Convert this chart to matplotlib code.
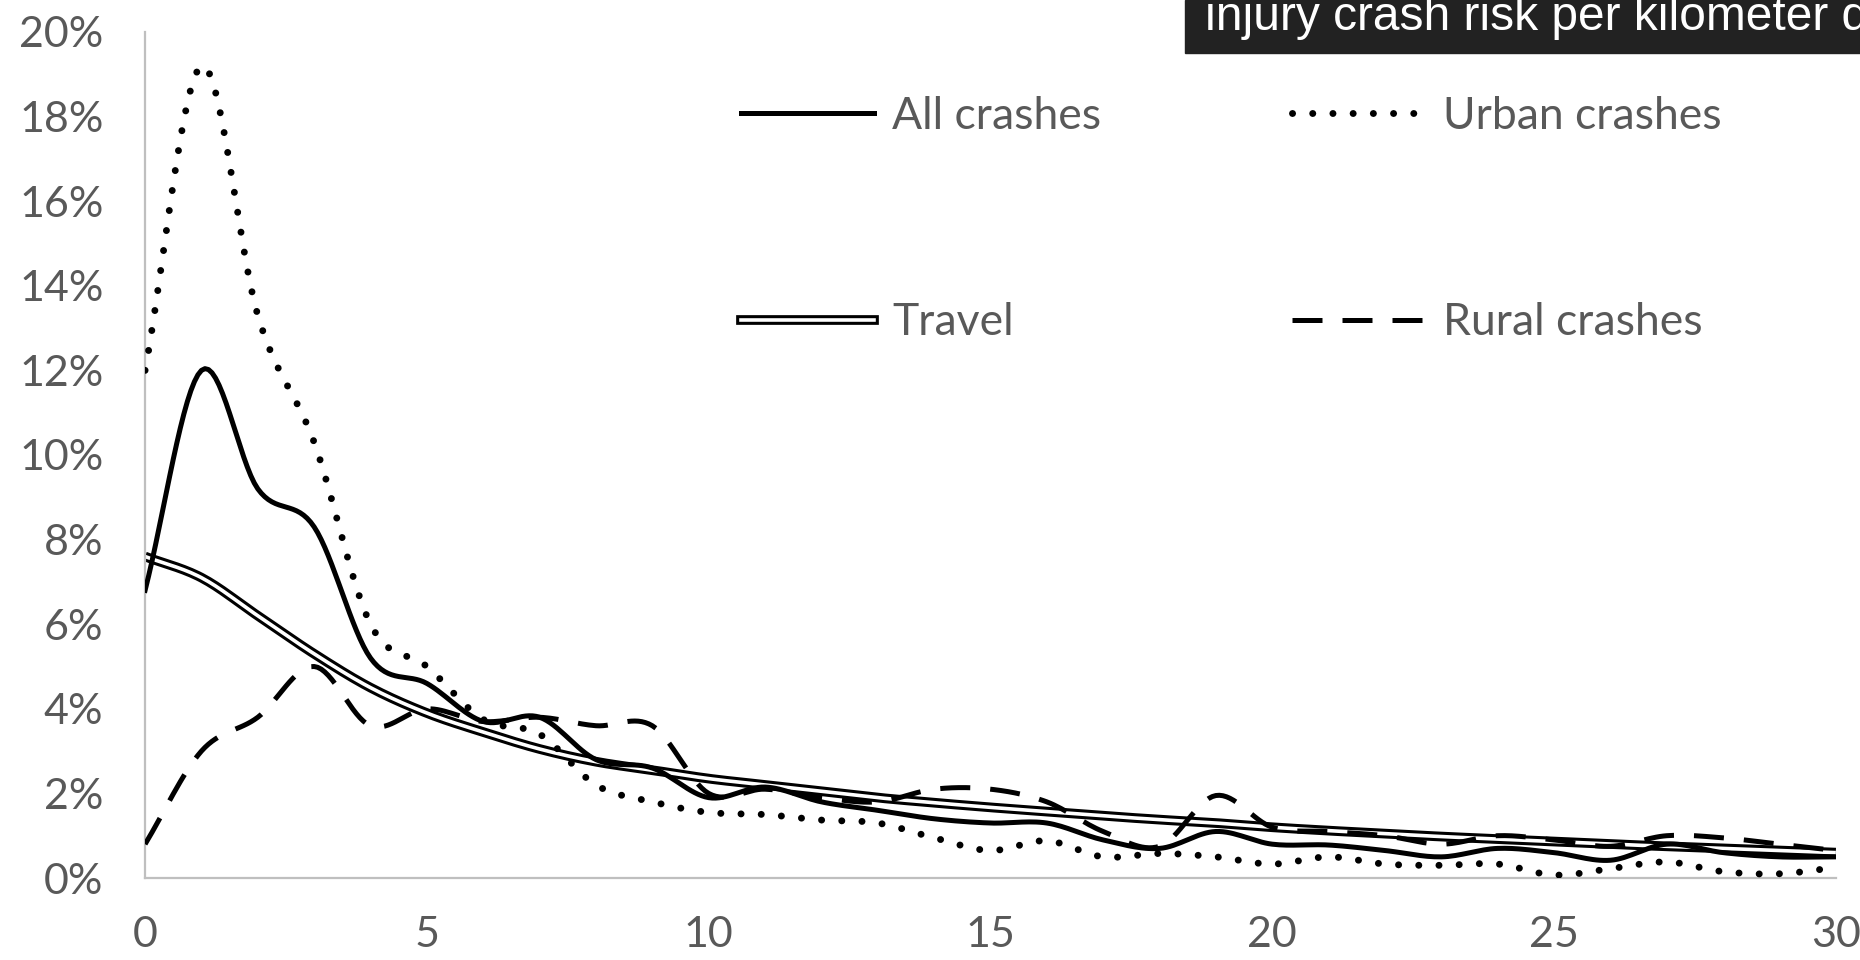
import numpy as np
import matplotlib
matplotlib.use('Agg')
import matplotlib.pyplot as plt
import matplotlib.patheffects as pe
from matplotlib.lines import Line2D
from matplotlib.ticker import FuncFormatter

# Values (percent), distance 0..30
distance = list(range(31))
all_crashes = [6.8, 12.0, 9.2, 8.3, 5.2, 4.6, 3.7, 3.8, 2.8, 2.6, 1.9,
               2.15, 1.8, 1.6, 1.4, 1.3, 1.3, 0.9, 0.7, 1.1, 0.8,
               0.78, 0.65, 0.5, 0.7, 0.6, 0.42, 0.8, 0.6, 0.5, 0.5]
urban_crashes = [12.0, 19.2, 13.3, 10.3, 6.0, 5.0, 3.75, 3.4, 2.2, 1.8, 1.55,
                 1.5, 1.37, 1.3, 0.95, 0.65, 0.88, 0.5, 0.58, 0.5, 0.33,
                 0.5, 0.33, 0.3, 0.33, 0.07, 0.22, 0.38, 0.15, 0.1, 0.25]
rural_crashes = [0.8, 3.0, 3.8, 5.0, 3.6, 4.0, 3.7, 3.8, 3.6, 3.6, 2.0,
                 2.1, 1.9, 1.8, 2.1, 2.1, 1.8, 1.1, 0.75, 1.95, 1.2,
                 1.1, 1.0, 0.8, 1.0, 0.9, 0.75, 1.0, 0.95, 0.8, 0.65]
travel = [7.6, 7.1, 6.2, 5.3, 4.5, 3.9, 3.45, 3.05, 2.75, 2.55, 2.35,
          2.2, 2.05, 1.9, 1.78, 1.67, 1.57, 1.47, 1.38, 1.3, 1.2,
          1.12, 1.05, 0.98, 0.92, 0.86, 0.8, 0.75, 0.7, 0.65, 0.6]

y_ticks = [0, 2, 4, 6, 8, 10, 12, 14, 16, 18, 20]
x_ticks = [0, 5, 10, 15, 20, 25, 30]
title_text = 'injury crash risk per kilometer d'

label_font = ['Lato', 'DejaVu Sans']
gray = '#595959'

# double line look for the travel series
travel_fx = [pe.Stroke(linewidth=7.0, foreground='black'), pe.Normal()]


def smooth(x, y, n=16):
    # Catmull-Rom curve through the points, like Excel's smoothed line
    x = np.asarray(x, float)
    y = np.asarray(y, float)
    px = np.concatenate([[2 * x[0] - x[1]], x, [2 * x[-1] - x[-2]]])
    py = np.concatenate([[2 * y[0] - y[1]], y, [2 * y[-1] - y[-2]]])
    t = np.linspace(0, 1, n, endpoint=False)
    xs, ys = [], []
    for i in range(1, len(px) - 2):
        for p, out in ((px, xs), (py, ys)):
            p0, p1, p2, p3 = p[i - 1], p[i], p[i + 1], p[i + 2]
            out.extend(0.5 * (2 * p1 + (-p0 + p2) * t
                              + (2 * p0 - 5 * p1 + 4 * p2 - p3) * t ** 2
                              + (-p0 + 3 * p1 - 3 * p2 + p3) * t ** 3))
    xs.append(x[-1])
    ys.append(y[-1])
    return np.array(xs), np.array(ys)


fig = plt.figure(figsize=(18.6, 9.6), dpi=100)
ax = fig.add_axes([0.078, 0.0854, 0.909, 0.8813])

tx, ty = smooth(distance, travel)
ax.plot(tx, ty, color='white', lw=2.6, solid_capstyle='butt', zorder=2,
        path_effects=travel_fx)

rx, ry = smooth(distance, rural_crashes)
ax.plot(rx, ry, color='black', lw=3.6, linestyle=(0, (6, 4)),
        dash_capstyle='butt', zorder=3)

ux, uy = smooth(distance, urban_crashes)
ax.plot(ux, uy, color='black', lw=5.0, linestyle=(0, (0.01, 2.9)),
        dash_capstyle='round', zorder=3)

ax_, ay_ = smooth(distance, all_crashes)
ax.plot(ax_, ay_, color='black', lw=3.6, zorder=4)

ax.set_xlim(0, 30)
ax.set_ylim(0, 20)
ax.set_xticks(x_ticks)
ax.set_yticks(y_ticks)
ax.yaxis.set_major_formatter(FuncFormatter(lambda v, p: f'{v:.0f}%'))
ax.tick_params(length=0, labelcolor=gray, labelsize=31)
ax.tick_params(axis='y', pad=30)
ax.tick_params(axis='x', pad=27)
for lab in ax.get_xticklabels() + ax.get_yticklabels():
    lab.set_family(label_font)
for s in ['top', 'right']:
    ax.spines[s].set_visible(False)
for s in ['left', 'bottom']:
    ax.spines[s].set_color('#BFBFBF')
    ax.spines[s].set_linewidth(1.6)

# Legend
h_all = Line2D([], [], color='black', lw=3.6)
h_travel = Line2D([], [], color='white', lw=2.6, path_effects=travel_fx)
h_urban = Line2D([], [], color='black', lw=5.0, linestyle=(0, (0.01, 2.9)),
                 dash_capstyle='round')
h_rural = Line2D([], [], color='black', lw=3.6, linestyle=(0, (6, 4)))
leg = ax.legend([h_all, h_travel, h_urban, h_rural],
                ['All crashes', 'Travel', 'Urban crashes', 'Rural crashes'],
                ncol=2, frameon=False, loc='upper left',
                bbox_to_anchor=(741 / 1860, 1 - 96 / 960),
                bbox_transform=fig.transFigure, borderpad=0, borderaxespad=0,
                handlelength=3.0, handletextpad=0.4, labelspacing=3.72,
                columnspacing=4.3, prop={'family': label_font, 'size': 32})
for t in leg.get_texts():
    t.set_color(gray)

# Dark title strip, cut off at the right edge as in the source
fig.patches.append(plt.Rectangle((1185 / 1860, 1 - 53 / 960), 1, 53 / 960,
                                 transform=fig.transFigure,
                                 color='#222222', zorder=5))
fig.text(1205 / 1860, 1 - 30 / 960, title_text, color='white',
         fontsize=34.5, family='Liberation Sans', va='baseline', ha='left',
         zorder=6)

fig.savefig('out.png', dpi=100)
